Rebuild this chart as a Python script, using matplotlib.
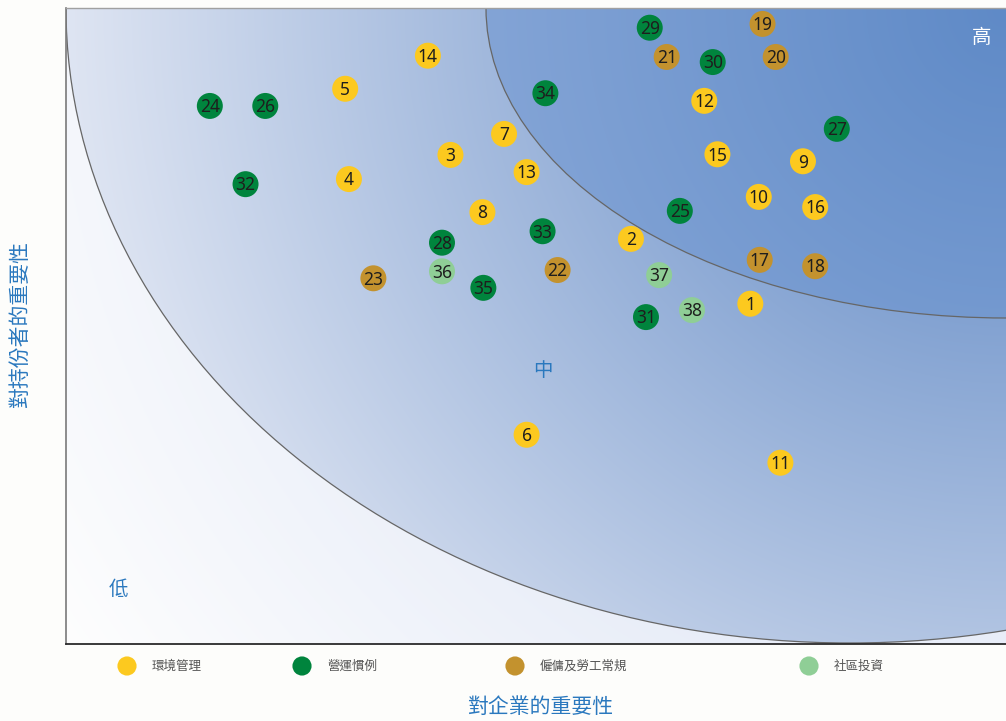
import numpy as np
import matplotlib
matplotlib.use("Agg")
import matplotlib.pyplot as plt
from matplotlib.patches import Ellipse
from matplotlib.colors import to_rgb

plt.rcParams['font.family'] = ['Noto Sans CJK TC', 'DejaVu Sans']

# ---- data ----
ids = list(range(1, 39))
x_vals = [7.28, 6.01, 4.09, 3.01, 2.97, 4.90, 4.66, 4.43, 7.84, 7.37,
          7.60, 6.79, 4.90, 3.85, 6.93, 7.97, 7.38, 7.97, 7.41, 7.55,
          6.39, 5.23, 3.27, 1.53, 6.53, 2.12, 8.20, 4.00, 6.21, 6.88,
          6.17, 1.91, 5.07, 5.10, 4.44, 4.00, 6.31, 6.66]
y_vals = [5.35, 6.37, 7.69, 7.31, 8.73, 3.29, 8.02, 6.79, 7.59, 7.03,
          2.85, 8.54, 7.42, 9.25, 7.70, 6.87, 6.04, 5.94, 9.75, 9.23,
          9.23, 5.88, 5.75, 8.46, 6.81, 8.46, 8.10, 6.31, 9.69, 9.15,
          5.14, 7.23, 6.49, 8.66, 5.60, 5.86, 5.80, 5.25]
cat_of = ([0] * 16) + ([2] * 7) + ([1] * 12) + ([3] * 3)
categories = ['環境管理', '營運慣例', '僱傭及勞工常規', '社區投資']
cat_colors = ['#fcc91f', '#00843d', '#c3922e', '#8fce96']

W, H = 1006, 721
fig = plt.figure(figsize=(W / 100, H / 100), dpi=100, facecolor='#fdfdfb')
ax = fig.add_axes([66 / W, (H - 644) / H, 940 / W, 636 / H])
ax.set_xlim(0, 10)
ax.set_ylim(0, 10)

# ---- background gradient (pixel space of the axes) ----
pw, ph = 940, 636
xs = 66 + np.arange(pw) + 0.5
ys = 8 + np.arange(ph) + 0.5
X, Y = np.meshgrid(xs, ys)
outer = ((X - 850) / 784) ** 2 + ((Y - 8) / 635) ** 2 <= 1
inner = ((X - 1006) / 520) ** 2 + ((Y - 8) / 310) ** 2 <= 1


def lerp(c0, c1, t):
    c0 = np.array(to_rgb(c0))
    c1 = np.array(to_rgb(c1))
    return c0[None, None, :] * (1 - t[..., None]) + c1[None, None, :] * t[..., None]


d = np.hypot(X - 1006, Y - 8)
t_out = np.clip((d - 680) / 460, 0, 1)
img = lerp('#e8edf8', '#fefefe', t_out)
t_ring = np.clip((d - 300) / 650, 0, 1)
ring = lerp('#81a1d1', '#e0e6f3', t_ring)
t_in = np.clip(d / 560, 0, 1)
inn = lerp('#5f8ac7', '#86a6d7', t_in)
img[outer] = ring[outer]
img[inner] = inn[inner]
ax.imshow(img, extent=[0, 10, 0, 10], origin='upper', aspect='auto', zorder=0,
          interpolation='bilinear')

# ---- ellipse outlines ----
sx, sy = 10 / 940, 10 / 636
ax.add_patch(Ellipse(((850 - 66) * sx, 10), 2 * 784 * sx, 2 * 635 * sy,
                     fill=False, edgecolor='#666666', lw=0.9, zorder=1))
ax.add_patch(Ellipse((10, 10), 2 * 520 * sx, 2 * 310 * sy,
                     fill=False, edgecolor='#666666', lw=0.9, zorder=1))

# ---- bubbles ----
cols = [cat_colors[c] for c in cat_of]
ax.scatter(x_vals, y_vals, s=350, c=cols, edgecolors='none', zorder=3)
for i, x, y in zip(ids, x_vals, y_vals):
    ax.text(x, y - 0.02, str(i), ha='center', va='center', fontsize=12.5,
            family=['Noto Sans', 'DejaVu Sans'], color='#1e1e1e', zorder=4)

# ---- zone labels ----
ax.text(0.56, 0.85, '低', color='#2a78be', fontsize=14, ha='center', va='center')
ax.text(5.07, 4.3, '中', color='#2a78be', fontsize=14, ha='center', va='center')
ax.text(9.74, 9.53, '高', color='white', fontsize=14, ha='center', va='center')

ax.set_xticks([])
ax.set_yticks([])
ax.spines['right'].set_visible(False)
ax.spines['left'].set_color('#7a7a7a')
ax.spines['left'].set_linewidth(1.2)
ax.spines['top'].set_color('#a0a0a0')
ax.spines['top'].set_linewidth(1.0)
ax.spines['bottom'].set_color('#2a2a2a')
ax.spines['bottom'].set_linewidth(1.3)

# ---- axis titles ----
fig.text(540 / W, 1 - 707 / H, '對企業的重要性', color='#2a78be', fontsize=15,
         ha='center', va='center')
fig.text(20 / W, 1 - 325 / H, '對持份者的重要性', color='#2a78be', fontsize=15,
         ha='center', va='center', rotation=90)

# ---- legend ----
lax = fig.add_axes([0, 0, 1, 1], facecolor='none')
lax.set_xlim(0, W)
lax.set_ylim(H, 0)
lax.axis('off')
leg_x = [127, 302, 515, 809]
for k, (lab, col) in enumerate(zip(categories, cat_colors)):
    lax.scatter([leg_x[k]], [666], s=190, c=col, edgecolors='none')
    lax.text(leg_x[k] + 25, 666, lab, fontsize=9, color='#555555',
             ha='left', va='center')

fig.savefig('out.png', dpi=100, facecolor=fig.get_facecolor())
